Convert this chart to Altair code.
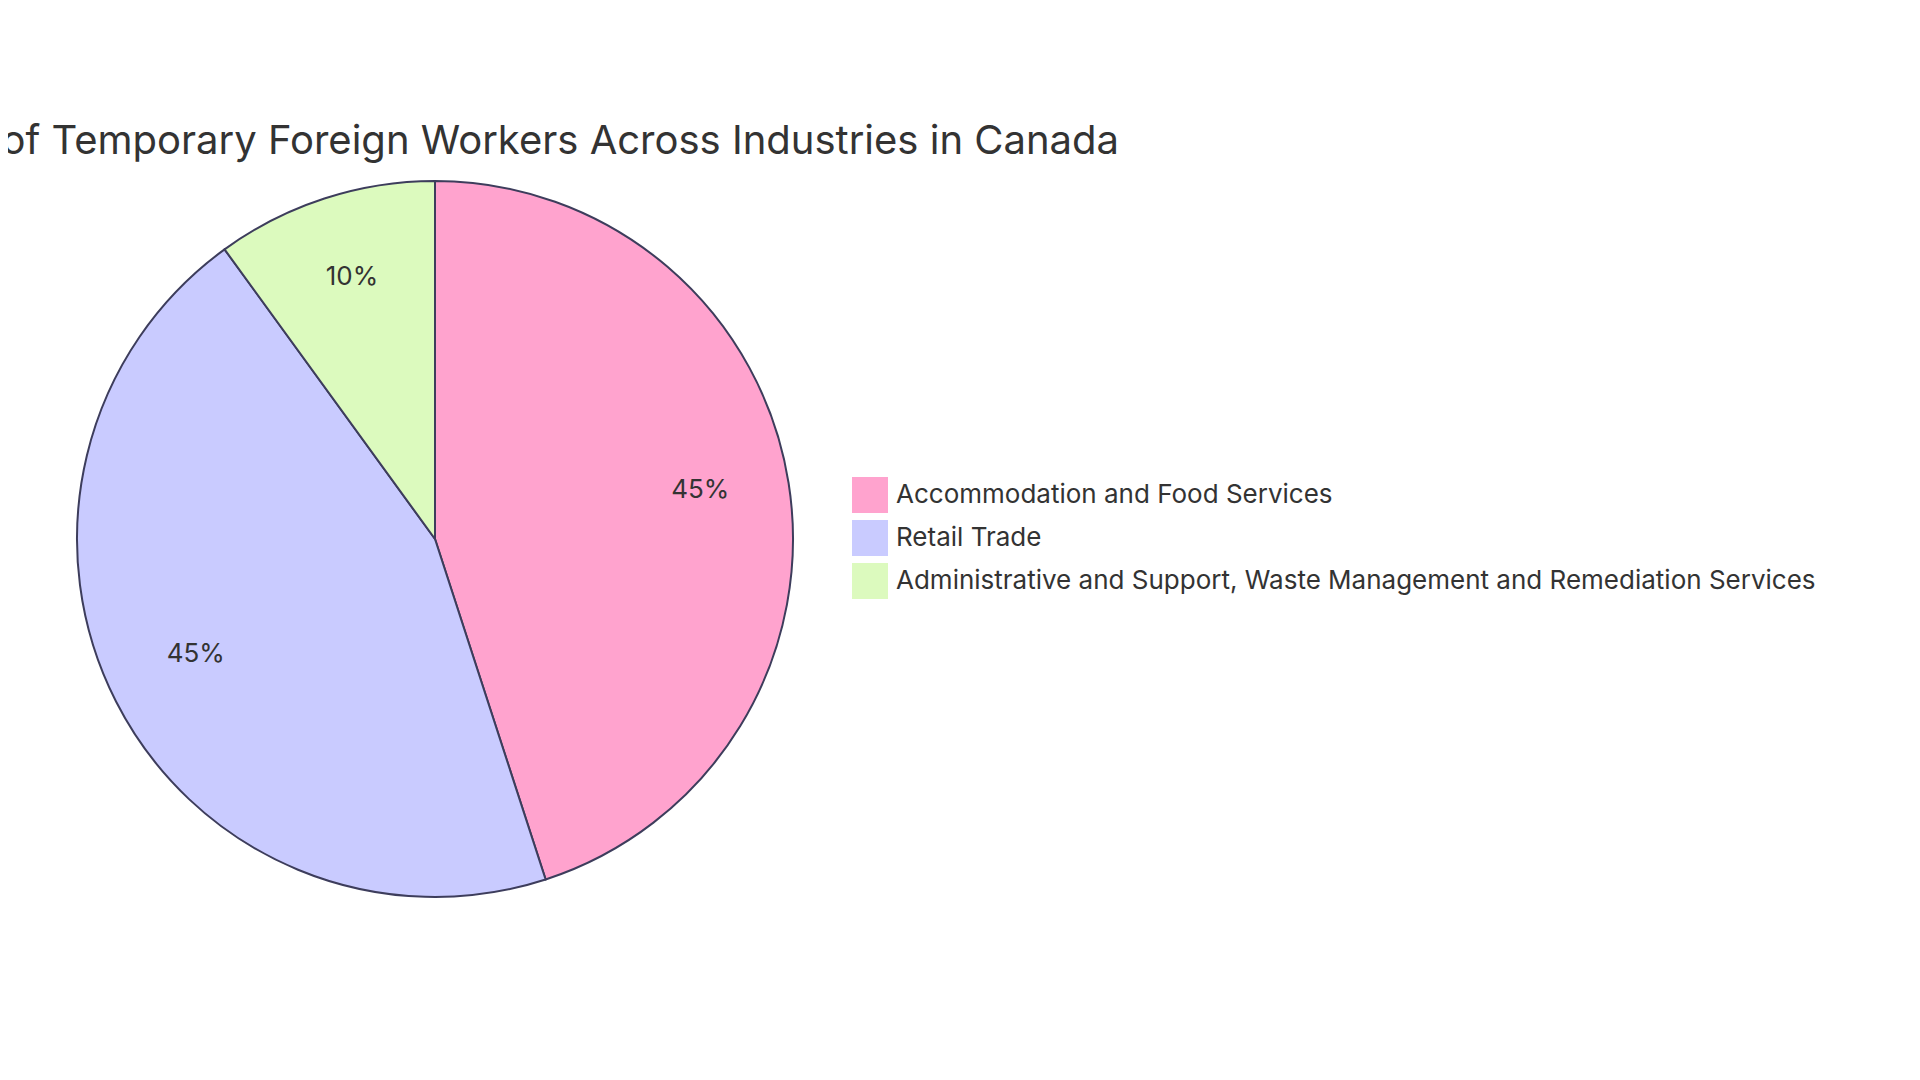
import altair as alt
import pandas as pd

categories = [
    "Accommodation and Food Services",
    "Retail Trade",
    "Administrative and Support, Waste Management and Remediation Services",
]
values = [45, 45, 10]
labels = ["45%", "45%", "10%"]
colors = ["#FFA3CE", "#C9CBFF", "#DCFABE"]

df = pd.DataFrame({
    "category": categories,
    "value": values,
    "label": labels,
    "idx": list(range(len(categories))),
})

FONT = "Inter"
R = 358

base = alt.Chart(df).encode(
    theta=alt.Theta("value:Q", stack=True),
    order=alt.Order("idx:Q"),
)

arcs = base.mark_arc(radius=R, stroke="#3d3d5c", strokeWidth=2).encode(
    color=alt.Color(
        "category:N",
        scale=alt.Scale(domain=categories, range=colors),
        sort=categories,
        legend=alt.Legend(
            title=None,
            orient="none",
            legendX=844,
            legendY=469,
            symbolType="square",
            symbolSize=1296,
            symbolStrokeWidth=0,
            labelFont=FONT,
            labelFontSize=26,
            labelColor="#333333",
            labelOffset=8,
            rowPadding=7,
            labelLimit=1200,
        ),
    )
)

text = base.mark_text(radius=R * 0.75, font=FONT, fontSize=26, color="#333333", dy=-7).encode(
    text="label:N"
)

chart = (
    alt.layer(arcs, text)
    .properties(
        width=854,
        height=1062,
        autosize=alt.AutoSizeParams(type="none"),
        padding={"left": 0, "top": 0, "right": 1040, "bottom": 0},
        title=alt.TitleParams(
            "Distribution of Temporary Foreign Workers Across Industries in Canada",
            font=FONT,
            fontSize=40,
            fontWeight="normal",
            color="#333333",
            anchor="end",
            frame="group",
            orient="top",
            offset=0,
            baseline="middle",
            dx=257,
            dy=174,
        ),
        background="white",
    )
    .configure_view(stroke=None)
)

chart.save("out.html", embed_options={"renderer": "svg", "actions": False})
